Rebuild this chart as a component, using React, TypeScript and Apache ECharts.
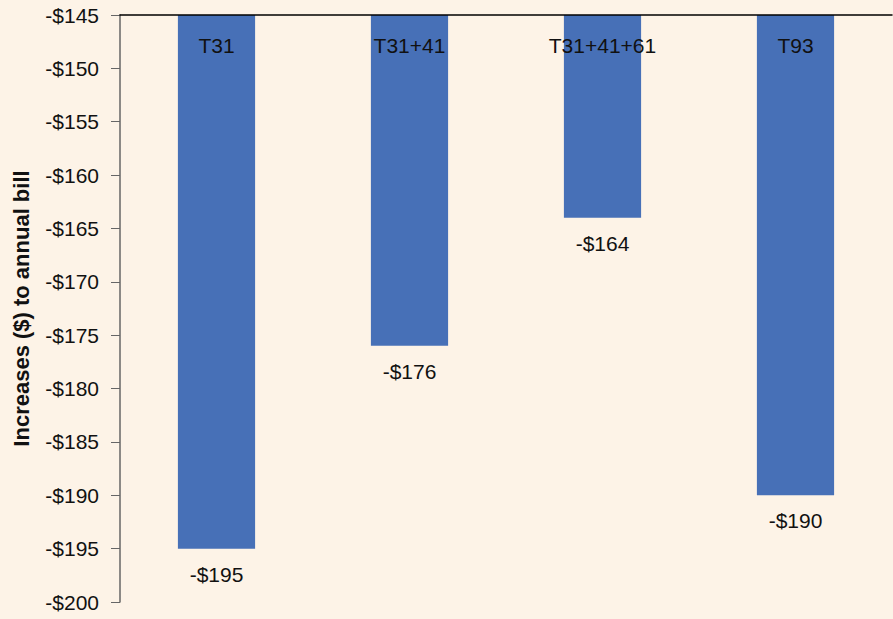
import React, { useEffect, useRef } from "react";
import * as echarts from "echarts";

const categories = ["T31", "T31+41", "T31+41+61", "T93"];
const values = [-195, -176, -164, -190];
const yMin = -200;
const yMax = -145;
const yStep = 5;

const fmt = (v: number) => (v < 0 ? "-$" : "$") + Math.abs(v);
const FONT = "'Liberation Sans', Arial, Helvetica, sans-serif";
const FS = 21;

export default function App() {
  const ref = useRef<HTMLDivElement>(null);
  useEffect(() => {
    if (!ref.current) return;
    const chart = echarts.init(ref.current, undefined, { renderer: "svg" });
    chart.setOption({
      animation: false,
      backgroundColor: "#fdf3e7",
      textStyle: { fontFamily: FONT },
      grid: { left: 120, right: 1, top: 15, bottom: 17, containLabel: false },
      xAxis: {
        type: "category",
        position: "top",
        data: categories,
        boundaryGap: true,
        axisLine: { onZero: false, lineStyle: { color: "#000", width: 1.5 } },
        axisTick: { inside: true, length: 5, lineStyle: { color: "#333" } },
        axisLabel: {
          inside: true,
          margin: 20,
          color: "#111",
          fontSize: FS,
          fontFamily: FONT,
          interval: 0,
        },
        splitLine: { show: false },
        z: 10,
      },
      yAxis: {
        type: "value",
        min: yMin,
        max: yMax,
        interval: yStep,
        name: "Increases ($) to annual bill",
        nameLocation: "middle",
        nameGap: 88,
        nameTextStyle: {
          fontSize: 22,
          fontWeight: "bold",
          color: "#111",
          fontFamily: FONT,
        },
        axisLine: { show: true, lineStyle: { color: "#666", width: 1.5 } },
        axisTick: { show: true, inside: false, length: 9, lineStyle: { color: "#666" } },
        axisLabel: {
          margin: 21,
          color: "#111",
          fontSize: FS,
          fontFamily: FONT,
          formatter: (v: number) => fmt(v),
        },
        splitLine: { show: false },
      },
      series: [
        {
          type: "bar",
          data: values,
          barWidth: "40%",
          clip: true,
          itemStyle: { color: "#4770b7" },
          label: {
            show: true,
            position: "bottom",
            distance: 15,
            color: "#111",
            fontSize: FS,
            fontFamily: FONT,
            formatter: (p: any) => fmt(p.value),
          },
        },
      ],
    });
    return () => chart.dispose();
  }, []);
  return (
    <div
      ref={ref}
      style={{ position: "fixed", left: 0, top: 0, width: 893, height: 619 }}
    />
  );
}
